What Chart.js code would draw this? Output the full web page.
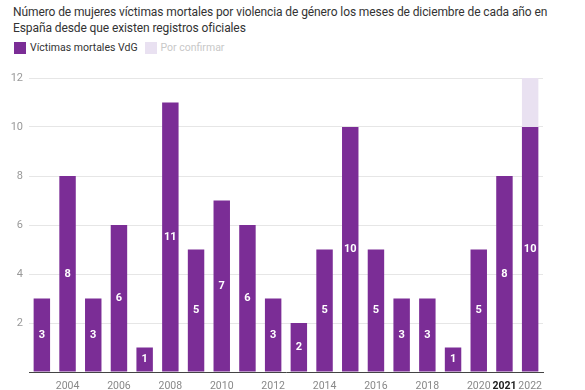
<!DOCTYPE html>
<html>
<head>
<meta charset="utf-8">
<script src="https://cdn.jsdelivr.net/npm/chart.js@4.4.0/dist/chart.umd.min.js"></script>
<style>
  body { margin: 0; background: #fff; font-family: Roboto, sans-serif; }
  #wrap { width: 585px; height: 390px; position: relative; }
  #title { position: absolute; left: 13px; top: 4px; width: 560px; font-size: 12px; letter-spacing: -0.1px; line-height: 16px; color: #333; }
  #legend { position: absolute; left: 14px; top: 41px; font-size: 10.5px; color: #333; display: flex; align-items: center; }
  .sw { width: 12px; height: 12px; display: inline-block; margin-right: 4px; }
  #box { position: absolute; left: 0; top: 60px; width: 585px; height: 330px; }
</style>
</head>
<body>
<div id="wrap">
  <div id="title">Número de mujeres víctimas mortales por violencia de género los meses de diciembre de cada año en España desde que existen registros oficiales</div>
  <div id="legend">
    <span class="sw" style="background:#7b2d96"></span><span>Víctimas mortales VdG</span>
    <span class="sw" style="background:#e9e1f1;margin-left:7px"></span><span style="color:#c8c8c8">Por confirmar</span>
  </div>
  <div id="box"><canvas id="chart"></canvas></div>
</div>
<script>
// Data
const years = ['2003', '2004', '2005', '2006', '2007', '2008', '2009', '2010', '2011', '2012',
               '2013', '2014', '2015', '2016', '2017', '2018', '2019', '2020', '2021', '2022'];
const victims = [3, 8, 3, 6, 1, 11, 5, 7, 6, 3, 2, 5, 10, 5, 3, 3, 1, 5, 8, 10];
const pending = [0, 0, 0, 0, 0, 0, 0, 0, 0, 0, 0, 0, 0, 0, 0, 0, 0, 0, 0, 2];
const shownYears = ['2004', '2006', '2008', '2010', '2012', '2014', '2016', '2018', '2020', '2021', '2022'];

// White value labels in the middle of each bar
const barLabels = {
    id: 'barLabels',
    afterDatasetsDraw(chart) {
        const ctx = chart.ctx;
        const meta = chart.getDatasetMeta(0);
        ctx.save();
        ctx.fillStyle = '#fff';
        ctx.font = 'bold 11px Roboto';
        ctx.textAlign = 'center';
        ctx.textBaseline = 'middle';
        meta.data.forEach((bar, i) => {
            const mid = (bar.y + bar.base) / 2;
            ctx.fillText(victims[i], bar.x, mid);
        });
        ctx.restore();
    }
};

const ctx = document.getElementById('chart').getContext('2d');
const chart = new Chart(ctx, {
    type: 'bar',
    data: {
        labels: years,
        datasets: [{
            label: 'Víctimas mortales VdG',
            data: victims,
            backgroundColor: '#7b2d96',
            barPercentage: 0.8,
            categoryPercentage: 0.8
        }, {
            label: 'Por confirmar',
            data: pending,
            backgroundColor: '#e9e1f1',
            barPercentage: 0.8,
            categoryPercentage: 0.8
        }]
    },
    options: {
        responsive: true,
        maintainAspectRatio: false,
        animation: false,
        layout: { padding: { top: 18, right: 42, left: 0, bottom: 0 } },
        plugins: { legend: { display: false }, tooltip: { enabled: false } },
        scales: {
            x: {
                stacked: true,
                grid: { display: false },
                border: { color: '#444', width: 1 },
                afterFit(scale) { scale.height = 18; },
                ticks: {
                    autoSkip: false,
                    maxRotation: 0,
                    padding: 0,
                    color: (c) => years[c.index] === '2021' ? '#222' : '#888',
                    font: (c) => ({ family: 'Roboto', size: 10.5, weight: years[c.index] === '2021' ? 'bold' : 'normal' }),
                    callback: function(value, index) {
                        return shownYears.includes(years[index]) ? years[index] : '';
                    }
                }
            },
            y: {
                stacked: true,
                min: 0,
                max: 12,
                grid: { color: '#e6e6e6', drawTicks: false },
                border: { display: false },
                afterFit(scale) { scale.width = 29; },
                ticks: {
                    stepSize: 2,
                    padding: 6,
                    color: '#999',
                    font: { family: 'Roboto', size: 11 },
                    callback: (v) => v === 0 ? '' : v
                }
            }
        }
    },
    plugins: [barLabels]
});
</script>
</body>
</html>
